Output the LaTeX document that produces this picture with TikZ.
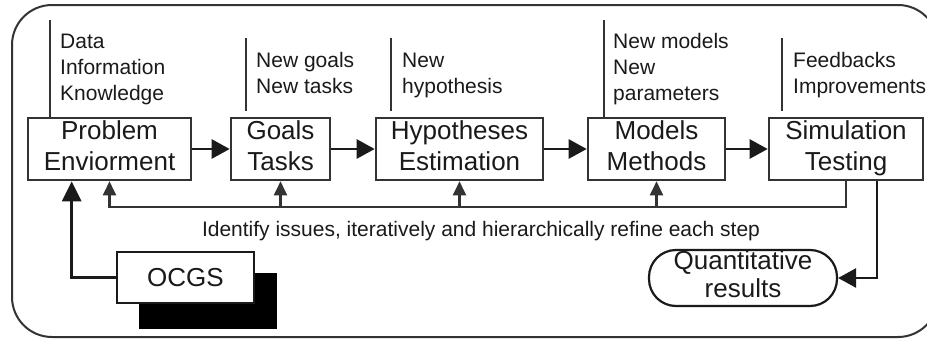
\documentclass[tikz,border=0pt]{standalone}
\usepackage{fontspec}
\setmainfont{Liberation Sans}
\usetikzlibrary{arrows.meta,calc}
\newcommand{\ctab}[1]{\begin{tabular}[t]{@{}c@{}}#1\end{tabular}}
\newcommand{\ltab}[1]{\begin{tabular}[t]{@{}l@{}}#1\end{tabular}}
\definecolor{ink}{HTML}{1A1A1A}
\definecolor{frame}{HTML}{333333}
\begin{document}
\begin{tikzpicture}[x=1pt,y=-1pt,
  stepbox/.style={draw=frame, line width=2.6pt, fill=white, inner sep=0pt,
    minimum height=62pt, font=\fontsize{26}{31}\selectfont, text=ink},
  note/.style={anchor=base west, inner sep=0pt, font=\fontsize{21}{26}\selectfont, text=ink},
  tick/.style={draw=frame, line width=2.2pt},
  flow/.style={draw=ink, line width=2.6pt, -{Triangle[length=18pt,width=19pt]}},
  fb/.style={draw=frame, line width=2.4pt},
  fbarrow/.style={fb, -{Triangle[length=14pt,width=13pt]}},
  bigarrow/.style={draw=ink, line width=2.6pt, -{Triangle[length=20pt,width=19pt]}},
]
\useasboundingbox (0,0) rectangle (927,340);
\begin{scope}
  \clip (0,0) rectangle (927,340);
  \draw[frame, line width=2pt, rounded corners=40pt] (12,5) rectangle (938,337);
\end{scope}

% process boxes
\node[stepbox, minimum width=163pt] (prob)  at (109.5,149) {\ctab{Problem\\Enviorment}};
\node[stepbox, minimum width=99pt]  (goals) at (280.5,149) {\ctab{Goals\\Tasks}};
\node[stepbox, minimum width=167pt] (hyp)   at (459.5,149) {\ctab{Hypotheses\\Estimation}};
\node[stepbox, minimum width=137pt] (mod)   at (656.5,149) {\ctab{Models\\Methods}};
\node[stepbox, minimum width=154pt] (sim)   at (846,149)   {\ctab{Simulation\\Testing}};

% annotation ticks
\draw[tick] (50,118) -- (50,20);
\draw[tick] (246,111) -- (246,38);
\draw[tick] (391,111) -- (391,38);
\draw[tick] (604,118) -- (604,20);
\draw[tick] (782,111) -- (782,38);

% annotations
\node[note] (n1) at (60,48)  {\ltab{Data\\Information\\Knowledge}};
\node[note] (n2) at (256,67) {\ltab{New goals\\New tasks}};
\node[note] (n3) at (402,67) {\ltab{New\\hypothesis}};
\node[note] (n4) at (613,48) {\ltab{New models\\New\\parameters}};
\node[note] (n5) at (793,67) {\ltab{Feedbacks\\Improvements}};

% main flow
\draw[flow] (prob.east) -- (goals.west);
\draw[flow] (goals.east) -- (hyp.west);
\draw[flow] (hyp.east) -- (mod.west);
\draw[flow] (mod.east) -- (sim.west);

% feedback loop
\coordinate (bar) at (0,207);
\draw[fbarrow] (sim.south) -- (sim.south |- bar) -| (prob.south);
\draw[fbarrow] (goals.south |- bar) -- (goals.south);
\draw[fbarrow] (hyp.south |- bar) -- (hyp.south);
\draw[fbarrow] (mod.south |- bar) -- (mod.south);

\node[anchor=base, inner sep=0pt, font=\fontsize{21}{26}\selectfont, text=ink] (fbtext) at (481,236.5)
  {Identify issues, iteratively and hierarchically refine each step};

% OCGS
\node[fill=black, inner sep=0pt, minimum width=138pt, minimum height=56pt] (shadow) at (208,301) {};
\node[draw=ink, line width=2pt, fill=white, inner sep=0pt, minimum width=137pt, minimum height=51pt,
  font=\fontsize{26}{31}\selectfont, text=ink] (ocgs) at (185.5,277.5) {OCGS};
\coordinate (pin) at ($(prob.south west)+(45,0)$);
\draw[bigarrow] (ocgs.west) -| (pin);

% quantitative results
\node[draw=ink, line width=2.2pt, rounded corners=27pt, minimum width=188pt, minimum height=54pt,
  inner sep=0pt, font=\fontsize{26}{28}\selectfont, text=ink] (quant) at (743,278) {\ctab{Quantitative\\results}};
\coordinate (drop) at ($(sim.south)+(31,0)$);
\draw[flow] (drop) |- (quant.east);
\end{tikzpicture}
\end{document}
